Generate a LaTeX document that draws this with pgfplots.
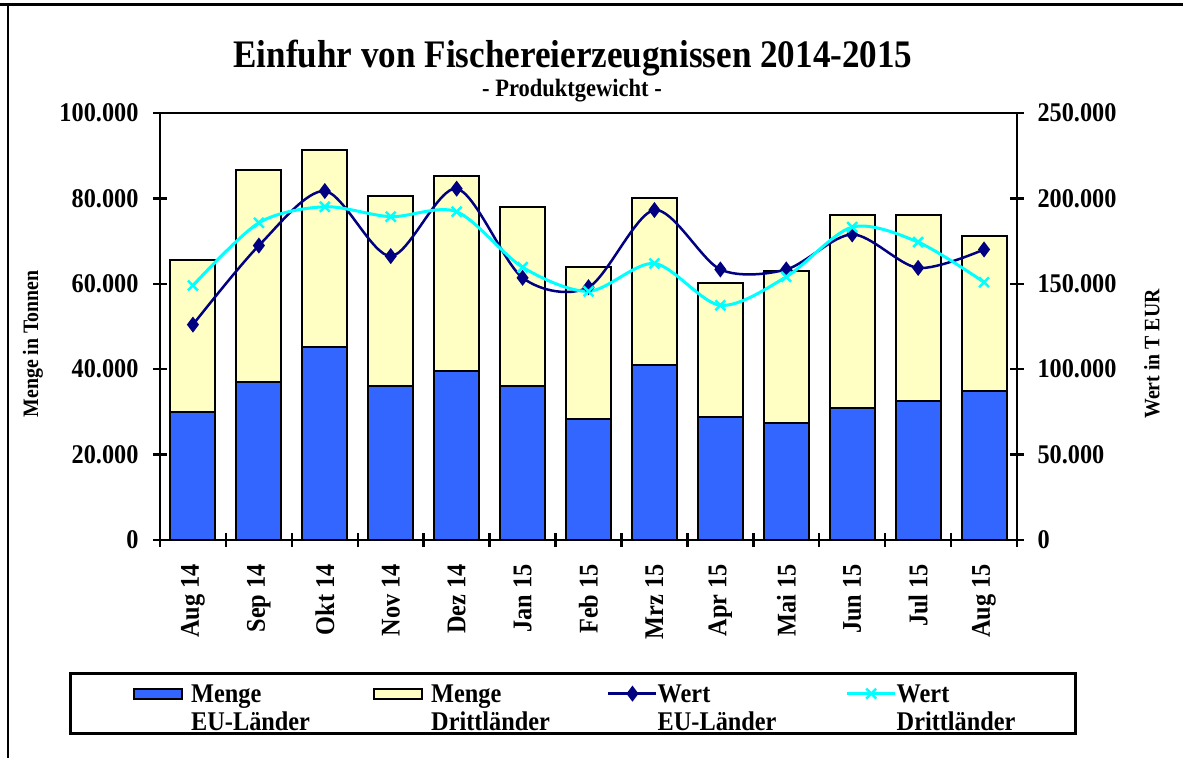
\documentclass[border=0pt]{standalone}
\usepackage{fontspec}
\setmainfont{Liberation Serif}[FakeStretch=0.9]
\usepackage{pgfplots}
\usepackage{pgfplotstable}
\pgfplotsset{compat=1.18}
\definecolor{euBlue}{RGB}{51,102,255}
\definecolor{drYellow}{RGB}{255,255,196}
\definecolor{navyL}{RGB}{0,0,128}
\definecolor{cyanL}{RGB}{0,255,255}

\pgfplotsset{
  barleg/.style={legend image code/.code={\draw[##1] (0pt,-5pt) rectangle (48pt,5pt);}},
  lineleg/.style={legend image code/.code={%
    \draw[##1, mark=none] (0pt,0pt) -- (48pt,0pt);
    \draw[##1, only marks] plot coordinates {(24pt,0pt)};}},
}

\pgfplotstableread{
x menge_eu menge_dr wert_eu wert_dr
0 30000 35600 126100 149000
1 36900 49700 172400 185700
2 45300 46000 204300 195100
3 36100 44400 166200 189300
4 39600 45700 205700 192200
5 36100 41800 153500 159700
6 28300 35700 148000 145600
7 40900 39100 193200 161900
8 28700 31400 158400 137400
9 27400 35700 158400 154100
10 30900 45300 178900 183200
11 32600 43600 159300 174400
12 34800 36500 170100 150900
}\datatable

\newcommand{\lbl}{\bfseries\fontsize{27}{28}\selectfont}
\newcommand{\lent}[2]{\begin{tabular}[t]{@{}l@{}}#1\\#2\end{tabular}}

\begin{document}
\begin{tikzpicture}
\useasboundingbox (0pt,0pt) rectangle (1183pt,758pt);
\draw[line width=3pt] (0pt,753pt) -- (1183pt,753pt);
\draw[line width=1.2pt] (8pt,753pt) -- (8pt,0pt);
\node[font=\bfseries\fontsize{39}{41}\selectfont] at (573pt,700pt) {Einfuhr von Fischereierzeugnissen 2014-2015};
\node[font=\bfseries\fontsize{25}{27}\selectfont] at (572pt,667pt) {- Produktgewicht -};
\node[rotate=90, font=\bfseries\fontsize{22}{24}\selectfont] at (33pt,414pt) {Menge in Tonnen};
\node[rotate=90, font=\bfseries\fontsize{22}{24}\selectfont] at (1152pt,404pt) {Wert in T EUR};

\begin{axis}[
  at={(160pt,218pt)}, anchor=south west, scale only axis,
  width=857pt, height=427pt,
  xmin=-0.5, xmax=12.5, ymin=0, ymax=100000,
  ybar stacked, bar width=45pt,
  axis line style={line width=2.5pt},
  xtick={0,...,12},
  xticklabels={Aug 14,Sep 14,Okt 14,Nov 14,Dez 14,Jan 15,Feb 15,Mrz 15,Apr 15,Mai 15,Jun 15,Jul 15,Aug 15},
  x tick label style={rotate=90, anchor=east, font=\lbl, inner xsep=17pt},
  major x tick style={draw=none},
  minor xtick={-0.5,0.5,...,12.5},
  minor x tick style={black, line width=2.5pt},
  minor tick length=14pt,
  tick align=center,
  ytick={0,20000,40000,60000,80000,100000},
  major y tick style={black, line width=2.5pt},
  major tick length=14pt,
  scaled y ticks=false,
  y tick label style={font=\lbl, xshift=-11pt, /pgf/number format/fixed, /pgf/number format/precision=0, /pgf/number format/1000 sep={.}, /pgf/number format/assume math mode=true},
  axis y line*=left,
  axis x line*=bottom,
]
\addplot[fill=euBlue, draw=black, line width=2pt] table[x=x, y=menge_eu] {\datatable};
\addplot[fill=drYellow, draw=black, line width=2pt] table[x=x, y=menge_dr] {\datatable};
\draw[line width=2.5pt] (rel axis cs:0,1) -- (rel axis cs:1,1);
\end{axis}

\begin{axis}[
  at={(160pt,218pt)}, anchor=south west, scale only axis,
  width=857pt, height=427pt,
  xmin=-0.5, xmax=12.5, ymin=0, ymax=250000,
  axis x line=none,
  axis y line*=right,
  axis line style={line width=2.5pt},
  ytick={0,50000,100000,150000,200000,250000},
  major y tick style={black, line width=2.5pt},
  major tick length=14pt,
  tick align=center,
  scaled y ticks=false,
  y tick label style={font=\lbl, xshift=10pt, /pgf/number format/fixed, /pgf/number format/precision=0, /pgf/number format/1000 sep={.}, /pgf/number format/assume math mode=true},
  legend columns=4,
  legend style={draw=none, fill=none, at={(-0.0315,-0.33)}, anchor=north west, inner sep=0pt,
    font=\lbl,
    /tikz/every odd column/.append style={column sep=6pt},
    /tikz/every even column/.append style={column sep=20pt}},
  legend cell align=left,
]
\addlegendimage{area legend, fill=euBlue, draw=black, line width=2pt, barleg}
\addlegendentry{\makebox[160pt][l]{\lent{Menge}{EU-Länder}}}
\addlegendimage{area legend, fill=drYellow, draw=black, line width=2pt, barleg}
\addlegendentry{\makebox[154pt][l]{\lent{Menge}{Drittländer}}}
\addplot[navyL, line width=2.5pt, smooth, mark=diamond*, mark size=6pt, lineleg]
  table[x=x, y=wert_eu] {\datatable};
\addlegendentry{\makebox[158pt][l]{\hspace*{-8pt}\lent{Wert}{EU-Länder}}}
\addplot[cyanL, line width=3pt, smooth, mark=x, mark size=7pt, mark options={line width=2.5pt}, lineleg]
  table[x=x, y=wert_dr] {\datatable};
\addlegendentry{\hspace*{-8pt}\lent{Wert}{Drittländer}}
\end{axis}
\draw[line width=3pt] (70pt,25pt) rectangle (1075pt,85pt);
\end{tikzpicture}
\end{document}
